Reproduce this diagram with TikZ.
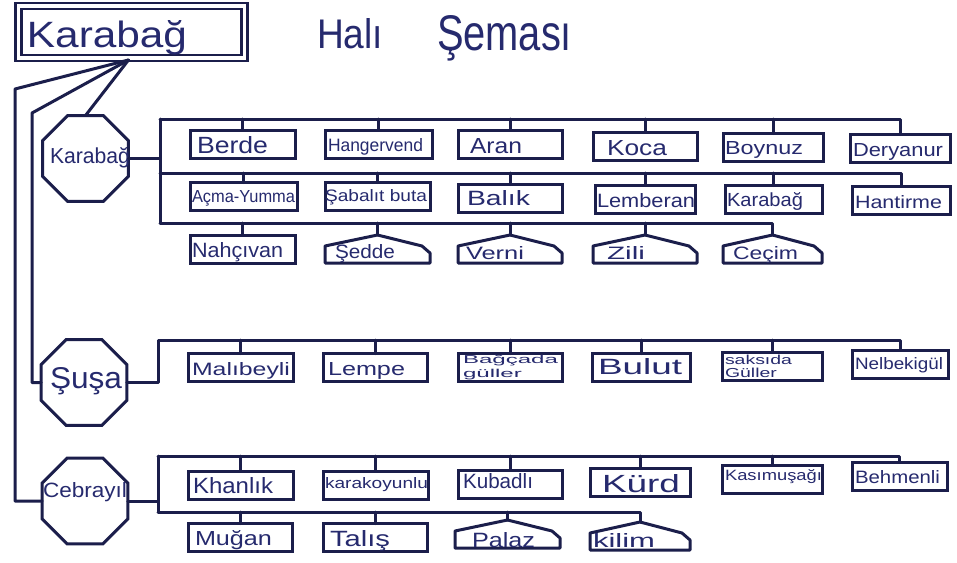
\documentclass[tikz,border=0pt]{standalone}
\usepackage{fontspec}
\setmainfont{Liberation Sans}
\usetikzlibrary{calc,shapes.geometric}
\definecolor{ink}{HTML}{1B1E4B}
\definecolor{txt}{HTML}{262A6E}
\newcommand\hw[3]{\resizebox{#1pt}{#2pt}{#3}}
\newcommand\rbox[4]{\node[bx=#4] (#1) at (#2,#3) {};}
\newcommand\pbox[4]{\node[pb=#4] (#1) at (#2,#3) {};
  \draw[ln] (#1.south west) -- ++(0,-17) -- (#1.north) -- ($(#1.south east)+(-8,-17)$) -- ($(#1.south east)+(0,-10)$) -- (#1.south east) -- cycle;}
\begin{document}
\begin{tikzpicture}[x=1pt,y=-1pt,
  ln/.style={draw=ink,line width=3pt,line cap=round,line join=round},
  bx/.style={rectangle,draw=ink,line width=3pt,inner sep=0pt,outer sep=0pt,minimum height=28pt,minimum width=#1pt},
  pb/.style={rectangle,inner sep=0pt,outer sep=0pt,minimum height=28pt,minimum width=#1pt},
  oct/.style={regular polygon,regular polygon sides=8,minimum size=93pt,draw=ink,line width=3pt,inner sep=0pt,outer sep=0pt},
  lb/.style={inner sep=0pt,outer sep=0pt,text=txt}]
\fill[white] (0,0) rectangle (957,562);
\useasboundingbox (0,0) rectangle (957,562);

% title
\node[draw=ink,line width=2.4pt,double,double distance=3.6pt,minimum width=226pt,minimum height=52pt,inner sep=0pt,outer sep=0pt] (t) at (131.5,32) {};
\node[lb,anchor=base west] (tlab) at (27,47) {\hw{160}{27}{Karabağ}};
\node[lb,anchor=base west] (h1) at (317,48) {\hw{66}{30}{Halı}};
\node[lb,anchor=base west] (h2) at (437,50) {\hw{135}{35}{Şeması}};

% octagons
\node[oct] (ok) at (85.5,158.5) {};
\node[oct] (os) at (84,382.5) {};
\node[oct] (oc) at (85,501) {};
\node[lb,anchor=base west] (okl) at (50,163) {\hw{80}{16}{Karabağ}};
\node[lb,anchor=base west] (osl) at (50,388) {\hw{72}{21}{Şuşa}};
\node[lb,anchor=base west] (ocl) at (43,497) {\hw{84}{15}{Cebrayıl}};

% title connectors
\coordinate (tj) at ($(t.south)+(-3,2)$);
\coordinate (ka) at (15,89);
\coordinate (kb) at (32,113);
\draw[ln] (tj) -- (ka) |- (oc.west);
\draw[ln] (tj) -- (kb) |- (os.west);
\draw[ln] (tj) -- (ok.north);

% Karabag boxes
\rbox{a11}{242.5}{144}{105}
\rbox{a12}{378.5}{144}{107}
\rbox{a13}{510}{144}{104}
\rbox{a14}{645}{146}{104}
\rbox{a15}{773}{147.5}{100}
\rbox{a16}{900}{148.5}{100}
\rbox{a21}{243.5}{196.5}{107}
\rbox{a22}{377.5}{196.5}{105}
\rbox{a23}{510}{198.5}{104}
\rbox{a24}{645}{199.5}{100}
\rbox{a25}{773.5}{199.5}{97}
\rbox{a26}{901}{200}{98}
\rbox{a31}{242.5}{249}{105}
\pbox{a32}{377.5}{249}{105}
\pbox{a33}{510}{249}{104}
\pbox{a34}{645}{249}{104}
\pbox{a35}{772.5}{249}{99}

\node[lb,anchor=base west] (t11) at (197,153) {\hw{71}{17}{Berde}};
\node[lb,anchor=base west] (t12) at (328,151) {\hw{95}{13}{Hangervend}};
\node[lb,anchor=base west] (t13) at (470,153) {\hw{52}{15}{Aran}};
\node[lb,anchor=base west] (t14) at (607,155) {\hw{60}{15}{Koca}};
\node[lb,anchor=base west] (t15) at (725,154) {\hw{78}{13}{Boynuz}};
\node[lb,anchor=base west] (t16) at (853,156) {\hw{90}{13}{Deryanur}};
\node[lb,anchor=base west] (t21) at (192,202) {\hw{103}{12}{Açma-Yumma}};
\node[lb,anchor=base west] (t22) at (325,201) {\hw{102}{12}{Şabalıt buta}};
\node[lb,anchor=base west] (t23) at (467,205) {\hw{63}{15}{Balık}};
\node[lb,anchor=base west] (t24) at (597,207) {\hw{98}{14}{Lemberan}};
\node[lb,anchor=base west] (t25) at (727,206) {\hw{76}{14}{Karabağ}};
\node[lb,anchor=base west] (t26) at (855,208) {\hw{87}{13}{Hantirme}};
\node[lb,anchor=base west] (t31) at (192,257) {\hw{91}{15}{Nahçıvan}};
\node[lb,anchor=base west] (t32) at (335,258) {\hw{60}{14}{Şedde}};
\node[lb,anchor=base west] (t33) at (466,259) {\hw{58}{13}{Verni}};
\node[lb,anchor=base west] (t34) at (607,259) {\hw{38}{13}{Zili}};
\node[lb,anchor=base west] (t35) at (733,259) {\hw{65}{13}{Ceçim}};

% Karabag bus
\coordinate (k1) at (160,119);
\coordinate (k2) at (160,173);
\coordinate (k3) at (160,223);
\draw[ln] (ok.east) -- (ok.east -| k1);
\draw[ln] (k1) -- (k3);
\draw[ln] (k1) -- (a16.north |- k1) -- (a16.north);
\draw[ln] (k2) -- (a26.north |- k2) -- (a26.north);
\draw[ln] (k3) -- (a35.north |- k3) -- (a35.north);
\foreach \n in {a11,a12,a13,a14,a15}{\draw[ln] (\n.north |- k1) -- (\n.north);}
\foreach \n in {a21,a22,a23,a24,a25}{\draw[ln] (\n.north |- k2) -- (\n.north);}
\foreach \n in {a31,a32,a33,a34}{\draw[ln] (\n.north |- k3) -- (\n.north);}

% Susa boxes
\rbox{s1}{240.5}{367.5}{105}
\rbox{s2}{375}{367.5}{104}
\rbox{s3}{510}{367.5}{104}
\rbox{s4}{641}{367.5}{98}
\rbox{s5}{772}{366}{100}
\rbox{s6}{900}{364}{96}
\node[lb,anchor=base west] (u1) at (192,375) {\hw{98}{13}{Malıbeyli}};
\node[lb,anchor=base west] (u2) at (328,375) {\hw{77}{13}{Lempe}};
\node[lb,anchor=north west] (u3) at (463,355) {\resizebox*{95pt}{25pt}{\shortstack[l]{Bağçada\\güller}}};
\node[lb,anchor=base west] (u4) at (598,374) {\hw{84}{16}{Bulut}};
\node[lb,anchor=north west] (u5) at (725,355) {\resizebox*{67pt}{23pt}{\shortstack[l]{saksıda\\Güller}}};
\node[lb,anchor=base west] (u6) at (855,369) {\hw{88}{12}{Nelbekigül}};
\coordinate (s0) at (158,340);
\draw[ln] (os.east) -| (s0) -- (s6.north |- s0) -- (s6.north);
\foreach \n in {s1,s2,s3,s4,s5}{\draw[ln] (\n.north |- s0) -- (\n.north);}

% Cebrayil boxes
\rbox{c11}{240.5}{485}{105}
\rbox{c12}{375.5}{485}{105}
\rbox{c13}{510}{484}{104}
\rbox{c14}{640}{482}{100}
\rbox{c15}{772}{479}{100}
\rbox{c16}{899.5}{476}{95}
\rbox{c21}{240}{537.5}{104}
\rbox{c22}{375}{537.5}{104}
\pbox{c23}{507.5}{534}{105}
\pbox{c24}{640}{536}{100}
\node[lb,anchor=base west] (v11) at (193,493) {\hw{80}{16}{Khanlık}};
\node[lb,anchor=base west] (v12) at (325,488) {\hw{103}{11}{karakoyunlu}};
\node[lb,anchor=base west] (v13) at (463,488) {\hw{70}{15}{Kubadlı}};
\node[lb,anchor=base west] (v14) at (602,492) {\hw{78}{18}{Kürd}};
\node[lb,anchor=base west] (v15) at (725,480) {\hw{97}{11}{Kasımuşağı}};
\node[lb,anchor=base west] (v16) at (855,483) {\hw{85}{13}{Behmenli}};
\node[lb,anchor=base west] (v21) at (195,545) {\hw{77}{15}{Muğan}};
\node[lb,anchor=base west] (v22) at (330,546) {\hw{60}{16}{Talış}};
\node[lb,anchor=base west] (v23) at (472,547) {\hw{63}{15}{Palaz}};
\node[lb,anchor=base west] (v24) at (593,547) {\hw{62}{14}{kilim}};
\coordinate (c1) at (158,456);
\coordinate (c2) at (158,512);
\draw[ln] (oc.east) -- (oc.east -| c1);
\draw[ln] (c1) -- (c2);
\draw[ln] (c1) -- (c16.north |- c1) -- (c16.north);
\draw[ln] (c2) -- (c24.north |- c2) -- (c24.north);
\foreach \n in {c11,c12,c13,c14,c15}{\draw[ln] (\n.north |- c1) -- (\n.north);}
\foreach \n in {c21,c22,c23}{\draw[ln] (\n.north |- c2) -- (\n.north);}
\end{tikzpicture}
\end{document}
